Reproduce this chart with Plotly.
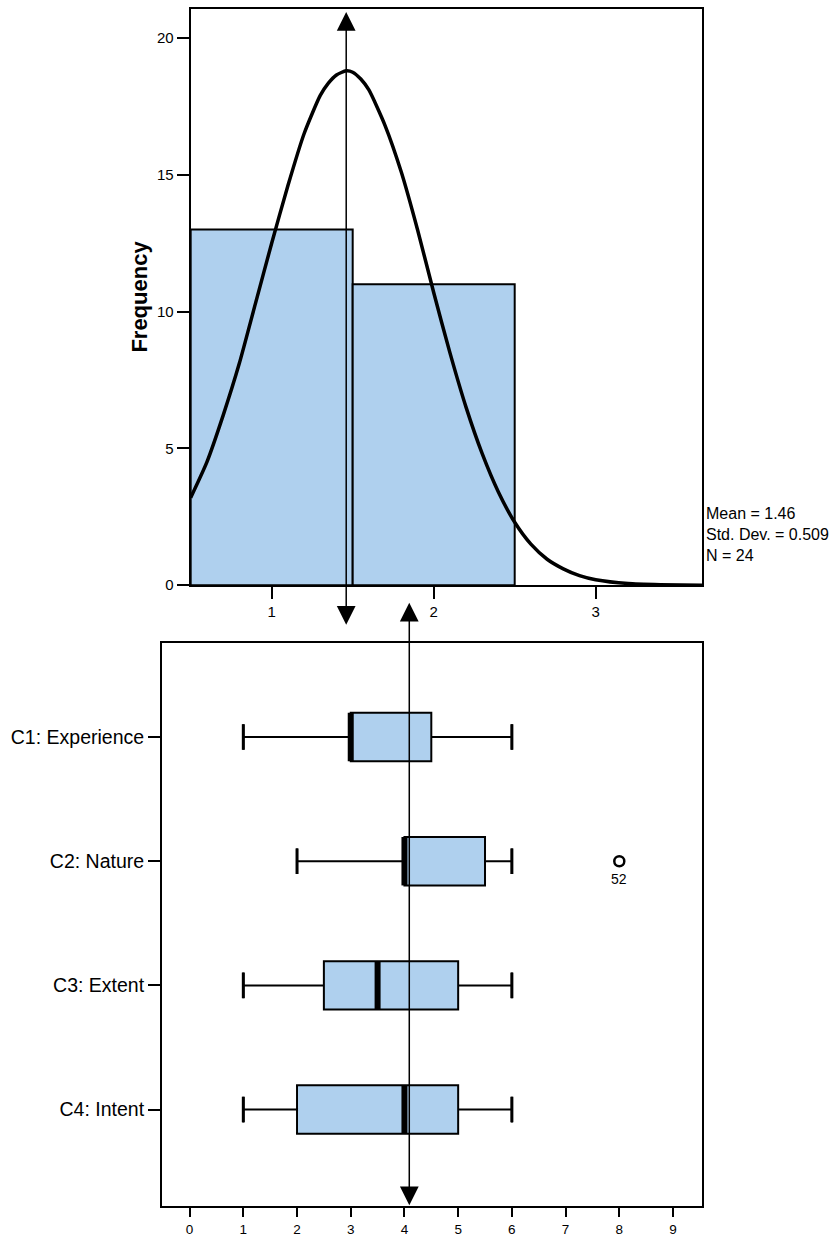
import plotly.graph_objects as go

# ---------------- data ----------------
# Histogram (top panel)
bin_centers = [1, 2]
bin_counts = [13, 11]
hist_ticks = [1, 2, 3]
freq_ticks = [0, 5, 10, 15, 20]
stats_text = ["Mean = 1.46", "Std. Dev. = 0.509", "N = 24"]
mean_value = 1.46

# Fitted normal curve
curve_x = [0.5, 0.6, 0.7, 0.8, 0.9, 1.0, 1.1, 1.2, 1.3, 1.35, 1.4, 1.46, 1.5, 1.55,
           1.6, 1.7, 1.8, 1.9, 2.0, 2.1, 2.2, 2.3, 2.4, 2.5, 2.6, 2.7, 2.8, 2.9,
           3.0, 3.2, 3.4, 3.66]
curve_y = [3.2, 4.5, 6.2, 8.1, 10.3, 12.5, 14.6, 16.5, 17.9, 18.35, 18.65, 18.8,
           18.75, 18.5, 18.1, 16.8, 15.1, 13.0, 10.7, 8.5, 6.5, 4.8, 3.4, 2.3, 1.5,
           0.95, 0.6, 0.35, 0.2, 0.06, 0.02, 0.0]

# Box plots (bottom panel)
categories = ["C1: Experience", "C2: Nature", "C3: Extent", "C4: Intent"]
box_min = [1, 2, 1, 1]
box_q1 = [3, 4, 2.5, 2]
box_median = [3, 4, 3.5, 4]
box_q3 = [4.5, 5.5, 5, 5]
box_max = [6, 6, 6, 6]
outlier_cat = [1]
outlier_value = [8]
outlier_label = ["52"]
box_ticks = list(range(10))
marker_value = 4.09

FILL = "#AFD0EE"
FONT = "Liberation Sans, Arial, sans-serif"
H_EFF = 1228.6  # effective rendered height used for paper placement


def py(px):
    return 1 - px / H_EFF


fig = go.Figure()

# ---------- top: histogram ----------
fig.add_trace(go.Bar(
    x=bin_centers, y=bin_counts, width=1,
    marker=dict(color=FILL, line=dict(color="black", width=2)),
    xaxis="x", yaxis="y", showlegend=False, hoverinfo="skip"))
fig.add_trace(go.Scatter(
    x=curve_x, y=curve_y, mode="lines", line_shape="spline",
    line=dict(color="black", width=3.5, smoothing=0.6),
    xaxis="x", yaxis="y", showlegend=False, hoverinfo="skip"))

# ---------- bottom: box plots ----------
pos = list(range(len(categories)))
for i in pos:
    fig.add_trace(go.Box(
        orientation="h", y=[i],
        q1=[box_q1[i]], median=[box_median[i]], q3=[box_q3[i]],
        lowerfence=[box_min[i]], upperfence=[box_max[i]],
        width=0.39, whiskerwidth=0.53,
        fillcolor=FILL, line=dict(color="black", width=2),
        boxpoints=False, xaxis="x2", yaxis="y2",
        showlegend=False, hoverinfo="skip"))
    # thicker whisker caps
    for end in (box_min[i], box_max[i]):
        fig.add_trace(go.Scatter(
            x=[end, end], y=[i - 0.103, i + 0.103],
            mode="lines", line=dict(color="black", width=3),
            xaxis="x2", yaxis="y2", showlegend=False, hoverinfo="skip"))
    # thick median line
    fig.add_trace(go.Scatter(
        x=[box_median[i], box_median[i]], y=[i - 0.195, i + 0.195],
        mode="lines", line=dict(color="black", width=6),
        xaxis="x2", yaxis="y2", showlegend=False, hoverinfo="skip"))

fig.add_trace(go.Scatter(
    x=outlier_value, y=outlier_cat, mode="markers",
    marker=dict(symbol="circle-open", size=10, color="black", line=dict(width=2.5)),
    xaxis="x2", yaxis="y2", showlegend=False, hoverinfo="skip", cliponaxis=False))
for v, c, lab in zip(outlier_value, outlier_cat, outlier_label):
    fig.add_annotation(text=lab, x=v, y=c, xref="x2", yref="y2", showarrow=False,
                       yshift=-18, font=dict(size=14, family=FONT))

axis_common = dict(showline=True, mirror=True, linecolor="black", linewidth=2,
                   showgrid=False, zeroline=False, ticks="outside",
                   tickcolor="black", tickwidth=2)

fig.update_layout(
    width=837, height=1237,
    margin=dict(l=0, r=0, t=0, b=0),
    paper_bgcolor="white", plot_bgcolor="white",
    font=dict(family=FONT, color="black"),
    xaxis=dict(domain=[0.2278, 0.8387], range=[0.5, 3.656],
               tickvals=hist_ticks, ticklen=12,
               tickfont=dict(size=15), anchor="y", **axis_common),
    yaxis=dict(domain=[py(586), py(9)], range=[0, 21.06],
               tickvals=freq_ticks, ticklen=12,
               tickfont=dict(size=15), anchor="x", **axis_common),
    xaxis2=dict(domain=[0.19355, 0.83871], range=[-0.514, 9.54],
                tickvals=box_ticks, ticklen=9,
                tickfont=dict(size=13.5), anchor="y2", **axis_common),
    yaxis2=dict(domain=[py(1208), py(643.5)], range=[3.78, -0.76],
                tickvals=pos, ticktext=categories, ticklen=12,
                tickfont=dict(size=19.5), anchor="x2", **axis_common),
)

# Frequency title
fig.add_annotation(text="<b>Frequency</b>", x=140 / 837, y=py(297),
                   xref="paper", yref="paper", xanchor="center", yanchor="middle",
                   showarrow=False, textangle=-90,
                   font=dict(size=22, family=FONT))

# Stats text
fig.add_annotation(text="<br>".join(stats_text), x=0.8415, y=py(504),
                   xref="paper", yref="paper", xanchor="left", yanchor="top",
                   align="left", showarrow=False, font=dict(size=16, family=FONT))

# Mean arrow (top)
fig.add_annotation(text="", x=mean_value, y=20.95, xref="x", yref="y",
                   ax=mean_value, ay=-1.5, axref="x", ayref="y",
                   showarrow=True, arrowside="end+start",
                   arrowhead=2, startarrowhead=2, arrowsize=2.5, startarrowsize=2.5,
                   arrowwidth=1.5, arrowcolor="black", standoff=0, startstandoff=0)

# Arrow (bottom)
fig.add_annotation(text="", x=marker_value, y=3.77, xref="x2", yref="y2",
                   ax=marker_value, ay=-1.094, axref="x2", ayref="y2",
                   showarrow=True, arrowside="end+start",
                   arrowhead=2, startarrowhead=2, arrowsize=2.5, startarrowsize=2.5,
                   arrowwidth=1.5, arrowcolor="black", standoff=0, startstandoff=0)

fig.write_html("out.html", config={"displayModeBar": False},
               post_script="document.body.style.margin='0';document.body.style.overflow='hidden';")
